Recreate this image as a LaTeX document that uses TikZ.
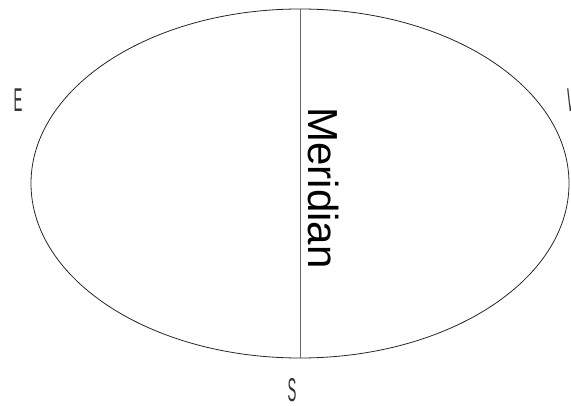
\documentclass[tikz,border=0pt]{standalone}
\usepackage{fontspec}
\setmainfont{Liberation Sans}
\begin{document}
\begin{tikzpicture}[x=1pt,y=1pt,
  outline/.style={draw=black!85, line width=0.8pt},
  meridianline/.style={draw=black!60, line width=1pt},
  compass/.style={inner sep=0pt, font=\fontsize{33}{33}\selectfont, text=black!80, xscale=0.4},
  bigtext/.style={inner sep=0pt, font=\fontsize{42}{42}\selectfont, rotate=-90, anchor=base}]
\useasboundingbox (0,0) rectangle (571,405);
\coordinate (c) at (300,221.5);
\draw[outline] (c) ellipse [x radius=269, y radius=174.5];
\coordinate (top) at (300,396);
\coordinate (bot) at (300,47);
\draw[meridianline] (top) -- (bot);
\node[bigtext] (mer) at (308,217) {Meridian};
\node[compass] (e) at (18,304.5) {E};
\node[compass, anchor=west] (w) at (567,304.5) {W};
\node[compass] (s) at (292,15) {S};
\end{tikzpicture}
\end{document}
